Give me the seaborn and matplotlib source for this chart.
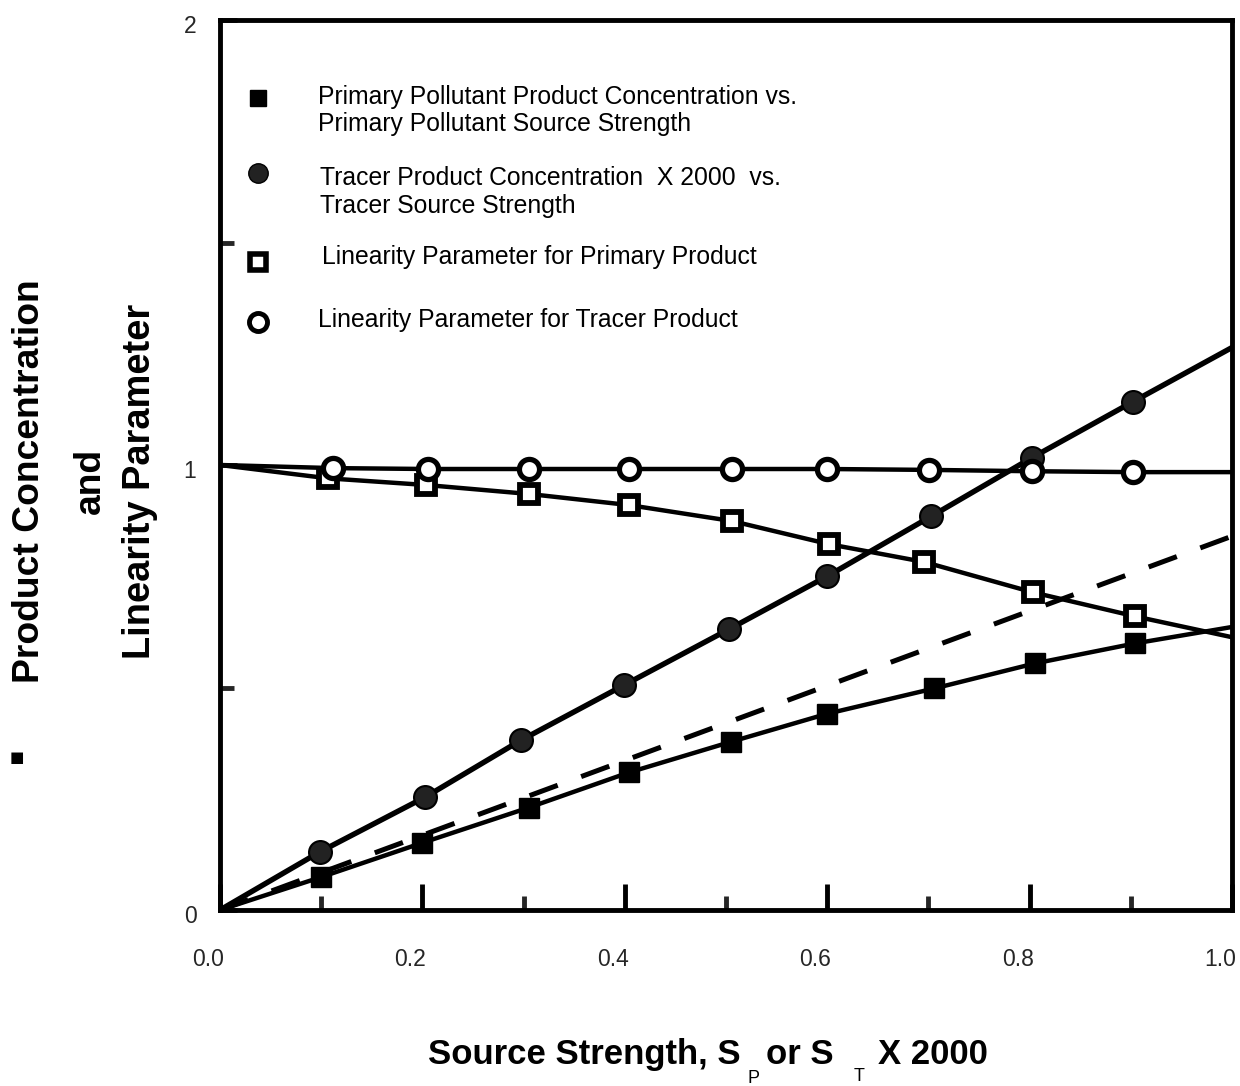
import numpy as np
import pandas as pd
import matplotlib
matplotlib.use("Agg")
import matplotlib.pyplot as plt
import matplotlib.transforms as mtransforms
from matplotlib.ticker import FixedLocator
import seaborn as sns

# ---------------- data ----------------
x_prim_conc = [0.0, 0.10, 0.20, 0.305, 0.404, 0.505, 0.60, 0.706, 0.805, 0.904, 1.0]
y_prim_conc = [0.0, 0.074, 0.151, 0.230, 0.309, 0.378, 0.441, 0.498, 0.554, 0.599, 0.636]

x_trac_conc = [0.0, 0.099, 0.203, 0.297, 0.399, 0.503, 0.60, 0.703, 0.802, 0.902, 1.0]
y_trac_conc = [0.0, 0.131, 0.254, 0.381, 0.505, 0.631, 0.750, 0.885, 1.016, 1.142, 1.264]

x_prim_lin = [0.0, 0.107, 0.204, 0.305, 0.404, 0.506, 0.602, 0.696, 0.803, 0.904, 1.0]
y_prim_lin = [1.0, 0.970, 0.955, 0.935, 0.910, 0.874, 0.822, 0.782, 0.714, 0.660, 0.613]

x_trac_lin = [0.0, 0.112, 0.206, 0.305, 0.404, 0.506, 0.60, 0.701, 0.802, 0.902, 1.0]
y_trac_lin = [1.0, 0.993, 0.991, 0.991, 0.991, 0.991, 0.991, 0.989, 0.986, 0.984, 0.984]

x_dashed = [0.0, 1.0]
y_dashed = [0.0, 0.84]

x_major_ticks = [0.0, 0.2, 0.4, 0.6, 0.8, 1.0]
x_minor_ticks = [0.1, 0.3, 0.5, 0.7, 0.9]
x_tick_labels = ["0.0", "0.2", "0.4", "0.6", "0.8", "1.0"]
y_major_ticks = [0, 1, 2]
y_minor_ticks = [0.5, 1.5]
y_tick_labels = ["0", "1", "2"]

legend_labels = [
    ["Primary Pollutant Product Concentration vs.", "Primary Pollutant Source Strength"],
    ["Tracer Product Concentration  X 2000  vs.", "Tracer Source Strength"],
    ["Linearity Parameter for Primary Product"],
    ["Linearity Parameter for Tracer Product"],
]
ylabel_lines = ["Product Concentration", "and", "Linearity Parameter"]

# ---------------- styling ----------------
sns.set_theme(style="white")
plt.rcParams['font.family'] = ['Liberation Sans', 'DejaVu Sans']

W, H = 1240, 1086
fig = plt.figure(figsize=(W / 100, H / 100), dpi=100)
ax_l, ax_r, ax_b, ax_t = 220, 1232, 910, 20
ax = fig.add_axes([ax_l / W, 1 - ax_b / H, (ax_r - ax_l) / W, (ax_b - ax_t) / H])
ax.set_xlim(0, 1)
ax.set_ylim(0, 2)

lw = 3.2
marker_idx = list(range(1, 10))

def series(xs, ys, lwidth=lw, **kw):
    df = pd.DataFrame({"x": xs, "y": ys})
    sns.lineplot(data=df, x="x", y="y", ax=ax, color="black", lw=lwidth,
                 estimator=None, sort=False, markevery=marker_idx, **kw)

# dashed reference line
df_d = pd.DataFrame({"x": x_dashed, "y": y_dashed})
sns.lineplot(data=df_d, x="x", y="y", ax=ax, color="black", lw=3.6, estimator=None)
ax.lines[-1].set_dashes((6.0, 5.0))

series(x_prim_conc, y_prim_conc, marker="s", markersize=14,
       markerfacecolor="black", markeredgecolor="black", markeredgewidth=1)
series(x_trac_conc, y_trac_conc, lwidth=3.9, marker="o", markersize=16.5,
       markerfacecolor="#222222", markeredgecolor="black", markeredgewidth=1.5)
series(x_prim_lin, y_prim_lin, marker="s", markersize=12.5,
       markerfacecolor="white", markeredgecolor="black", markeredgewidth=4.2)
series(x_trac_lin, y_trac_lin, marker="o", markersize=14.5,
       markerfacecolor="white", markeredgecolor="black", markeredgewidth=3.8)

# ---------------- axes / ticks ----------------
for s in ax.spines.values():
    s.set_visible(True)
    s.set_linewidth(3.5)
    s.set_color("black")
ax.set_xlabel("")
ax.set_ylabel("")
ax.xaxis.set_major_locator(FixedLocator(x_major_ticks))
ax.xaxis.set_minor_locator(FixedLocator(x_minor_ticks))
ax.set_xticklabels(x_tick_labels)
ax.yaxis.set_major_locator(FixedLocator(y_major_ticks))
ax.yaxis.set_minor_locator(FixedLocator(y_minor_ticks))
ax.set_yticklabels(y_tick_labels)
ax.tick_params(axis="x", which="major", direction="in", length=19, width=3.5,
               labelsize=16.5, pad=27, color="black", bottom=True)
ax.tick_params(axis="x", which="minor", direction="in", length=10, width=3.5,
               bottom=True)
ax.tick_params(axis="y", which="major", direction="in", length=12, width=3.5,
               labelsize=16.5, pad=17, left=True)
ax.tick_params(axis="y", which="minor", direction="in", length=10, width=3.5,
               left=True)
off = mtransforms.ScaledTranslation(-0.12, 0, fig.dpi_scale_trans)
for lab in ax.get_xticklabels():
    lab.set_transform(lab.get_transform() + off)
offy = mtransforms.ScaledTranslation(0, -0.04, fig.dpi_scale_trans)
for lab in ax.get_yticklabels():
    lab.set_transform(lab.get_transform() + offy)

# ---------------- legend (manual, inside axes) ----------------
def fx(px):
    return (px - ax_l) / (ax_r - ax_l)

def fy(py):
    return (ax_b - py) / (ax_b - ax_t)

leg_marker_y = [98, 173, 262, 322]
leg_text_y = [[97, 124], [178, 206], [257], [320]]
leg_text_x = [318, 320, 322, 318]
leg_styles = [
    dict(marker="s", markersize=12, markerfacecolor="black", markeredgecolor="black"),
    dict(marker="o", markersize=14, markerfacecolor="#222222", markeredgecolor="black"),
    dict(marker="s", markersize=11, markerfacecolor="white", markeredgecolor="black", markeredgewidth=4),
    dict(marker="o", markersize=13, markerfacecolor="white", markeredgecolor="black", markeredgewidth=3.5),
]
for my, ty, tx, st, labs in zip(leg_marker_y, leg_text_y, leg_text_x, leg_styles, legend_labels):
    ax.plot([fx(258)], [fy(my)], transform=ax.transAxes, linestyle="none", clip_on=False, **st)
    for yy, lab in zip(ty, labs):
        ax.text(fx(tx), fy(yy), lab, transform=ax.transAxes, ha="left", va="center",
                fontsize=17.8, color="black")

# ---------------- y label (three rotated lines) ----------------
for xpx, txt, fs in zip([30, 90, 140], ylabel_lines, [26.8, 26.8, 27.4]):
    fig.text(xpx / W, 1 - 481 / H, txt, rotation=90, ha="center", va="center",
             fontsize=fs, fontweight="bold", color="black")
fig.text(17 / W, 1 - 757 / H, "\u25A0", ha="center", va="center", fontsize=11,
         family=["DejaVu Sans"], color="black")

# ---------------- x label with dropped subscripts ----------------
renderer = fig.canvas.get_renderer()
pieces = [
    ("Source Strength, S", dict(fontsize=25, fontweight="bold"), 0, 7),
    ("P", dict(fontsize=13, fontweight="normal"), -19, 6),
    ("or S", dict(fontsize=25, fontweight="bold"), 0, 20),
    ("T", dict(fontsize=13, fontweight="normal"), -17, 14),
    ("X 2000", dict(fontsize=25, fontweight="bold"), 0, 0),
]
xcur = 428
base = 1064
for txt, kw, dy, gap in pieces:
    t = fig.text(xcur / W, 1 - (base - dy) / H, txt, ha="left", va="baseline",
                 color="black", **kw)
    bb = t.get_window_extent(renderer)
    xcur = bb.x1 + gap

fig.savefig("out.png", dpi=100)
